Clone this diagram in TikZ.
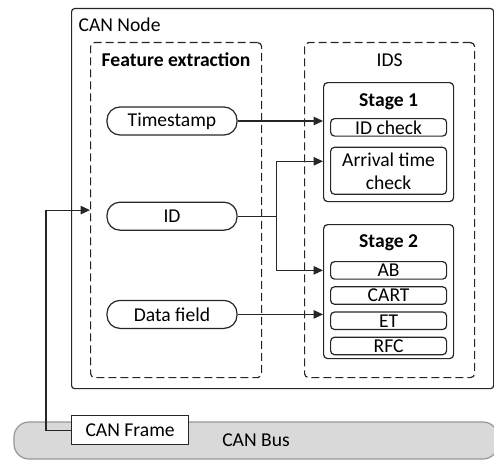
\documentclass[tikz,border=0pt]{standalone}
\usepackage{fontspec}
\setmainfont{Carlito}
\usetikzlibrary{arrows.meta,positioning,calc}
\definecolor{ink}{RGB}{38,38,38}
\definecolor{busfill}{RGB}{217,217,217}
\definecolor{busedge}{RGB}{150,150,150}

\begin{document}
\begin{tikzpicture}[
  x=1pt, y=1pt, font=\fontsize{19.6}{23}\selectfont, line width=1.2pt,
  box/.style={draw=ink, rounded corners=3pt, inner sep=0pt},
  dbox/.style={draw=ink, dash pattern=on 8pt off 4pt, rounded corners=4pt, inner sep=0pt},
  pill/.style={draw=ink, rounded corners=13pt, minimum width=130pt, minimum height=28pt, inner sep=0pt},
  stagebox/.style={draw=ink, rounded corners=4pt, minimum width=130pt, inner sep=0pt},
  item/.style={draw=ink, rounded corners=4pt, minimum width=116pt, minimum height=17.5pt, inner sep=0pt, align=center},
  bus/.style={draw=busedge, fill=busfill, rounded corners=15pt, inner sep=0pt},
  framebox/.style={draw=ink, fill=white, inner sep=0pt},
  lbl/.style={inner sep=0pt, anchor=base},
  arr/.style={-{Triangle[length=9.5pt,width=8.5pt]}, ink},
]
\useasboundingbox (0,0) rectangle (494,-460);
% bus and node outline
\node[bus, minimum width=484pt, minimum height=37pt] (bus) at (256,-440.5) {CAN Bus};
\node[box, minimum width=422pt, minimum height=380pt, anchor=north west] (cannode) at (71,-8) {};
\node[lbl, anchor=base west] (cannodelbl) at (78,-32) {CAN Node};
% feature extraction
\node[dbox, minimum width=171pt, minimum height=335pt, anchor=north west] (fe) at (90,-42) {};
\node[lbl, font=\fontsize{19.6}{23}\selectfont\bfseries] (fetitle) at ($(fe.north)+(0,-24pt)$) {Feature extraction};
\node[pill] (ts) at (172,-121) {Timestamp};
\node[pill, below=66pt of ts] (id) {ID};
\node[pill, below=69pt of id] (df) {Data field};
% IDS
\node[dbox, minimum width=170pt, minimum height=335pt, anchor=north west] (ids) at (304,-42) {};
\node[lbl] (idstitle) at ($(ids.north)+(0,-24pt)$) {IDS};
\node[stagebox, minimum height=119pt, anchor=north west] (stage1) at (323,-82) {};
\node[lbl, font=\fontsize{19.6}{23}\selectfont\bfseries] (s1title) at ($(stage1.north)+(0,-24.5pt)$) {Stage 1};
\node[item, anchor=north] (idchk) at ($(stage1.north)+(0,-36pt)$) {ID check};
\node[item, minimum height=47pt, below=10pt of idchk] (arrchk) {Arrival time\\check};
\node[stagebox, minimum height=134pt, anchor=north west] (stage2) at (323,-224) {};
\node[lbl, font=\fontsize{19.6}{23}\selectfont\bfseries] (s2title) at ($(stage2.north)+(0,-23pt)$) {Stage 2};
\node[item, anchor=north] (ab) at ($(stage2.north)+(0,-37pt)$) {AB};
\node[item, below=6.5pt of ab] (cart) {CART};
\node[item, below=6.5pt of cart] (et) {ET};
\node[item, below=6.5pt of et] (rfc) {RFC};
% frame on the bus
\node[framebox, minimum width=117pt, minimum height=29pt, anchor=north west] (frame) at (71,-415) {CAN Frame};
% connectors
\coordinate (split) at ($(id.east)+(39pt,0)$);
\coordinate (arrin) at ($(stage1.west |- arrchk)+(0,9.5pt)$);
\draw[ink] (id) -- (split);
\draw[arr] (split) |- (arrin);
\draw[arr] (split) |- (stage2.west |- ab);
\draw[arr] (ts) -- (ts -| stage1.west);
\draw[arr] (df) -- (df -| stage2.west);
\draw[arr] (frame.west) -- ++(-25pt,0) |- (fe.west);
\end{tikzpicture}
\end{document}
